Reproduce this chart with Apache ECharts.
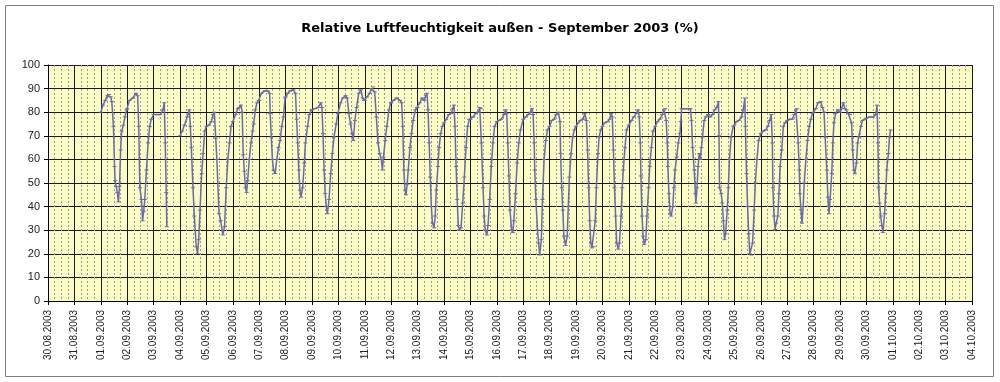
<!DOCTYPE html>
<html>
<head>
<meta charset="utf-8">
<script src="https://cdn.jsdelivr.net/npm/echarts@6/dist/echarts.min.js"></script>
<style>
html,body{margin:0;padding:0;background:#fff;}
#c{width:1000px;height:382px;}
</style>
</head>
<body>
<div id="c"></div>
<script>
// Tick labels of the x axis (one per day, 30.08.2003 .. 04.10.2003)
const dateLabels = ['30.08.2003','31.08.2003','01.09.2003','02.09.2003','03.09.2003','04.09.2003','05.09.2003','06.09.2003','07.09.2003','08.09.2003','09.09.2003','10.09.2003','11.09.2003','12.09.2003','13.09.2003','14.09.2003','15.09.2003','16.09.2003','17.09.2003','18.09.2003','19.09.2003','20.09.2003','21.09.2003','22.09.2003','23.09.2003','24.09.2003','25.09.2003','26.09.2003','27.09.2003','28.09.2003','29.09.2003','30.09.2003','01.10.2003','02.10.2003','03.10.2003','04.10.2003'];
const yTicks = [0,10,20,30,40,50,60,70,80,90,100];

// Readings per day: [hour of day, relative humidity %]
const sep01 = [[0,80],[2,83],[4,85],[6,87],[7.5,87.5],[9,86.5],[10,84.5],[11.5,74],[12.5,57],[13,51],[14,48.5],[15,46],[16,42],[17,48.5],[18,64],[19,72],[20.5,74.5],[22,78],[23.5,81]];
const sep02 = [[0,81.5],[2,85],[5,86],[8,88],[9.5,87],[10.5,74],[11.5,48],[13,43],[14,34],[15,38],[16,43],[17.5,55.5],[19,67],[20.5,74],[21.8,77]];
const sep03 = [[0,79],[3,79],[6,79],[8.5,81],[9.7,84],[10.6,67],[11.5,46],[12,31.5]];
const sep04 = [[0,70],[2,72],[4,74.5],[6.5,78],[8.5,81],[9.4,74],[10.3,65],[11.8,48],[13,36],[14.8,23],[16,20],[17,26],[18.2,38.5],[19.7,54],[21,62.5],[22.5,72]];
const sep05 = [[0,74],[2.4,74.5],[4.5,76],[6,79],[7.2,80],[8.5,69],[9.5,60],[11.5,37],[13,34],[15,28],[16.5,31.5],[18,48],[19.5,60],[21,67],[22.4,74]];
const sep06 = [[0,76],[2.5,79],[4.5,81.5],[6,82],[7.5,83],[8.5,80],[9.5,62],[10.5,55],[11.5,48],[12.5,46],[13.5,51],[15,60],[16.5,67],[18,72],[19,75],[20.5,81],[22,84],[23.5,85]];
const sep07 = [[0,85],[2,88],[5,89],[8,89],[9.5,88],[10,79.5],[11,69.5],[12,60],[13,55.5],[14.5,54],[16,60],[17.5,65],[19,68],[20.5,74],[22,78],[23.5,86]];
const sep08 = [[0,86.5],[2,88],[4,89],[7,89.5],[9,88],[10,77],[11,67],[12,55.5],[13,47],[14,44],[15.5,48],[17,58.5],[18,67],[20,74],[21.5,79],[23.5,81]];
const sep09 = [[0,81],[2.5,81.5],[5.5,82],[8,84],[9,82],[10,71],[11,55.5],[12,45.5],[13,40],[14,37],[15.5,43],[17,54],[18.5,62.5],[20,69.5],[22,75],[23.5,79.5]];
const sep10 = [[0,79.5],[2,84],[4,86],[6.5,87],[8,86],[9.5,79.5],[11,75],[12.5,71],[13.5,68],[15,76.5],[16.5,82],[18.5,88],[20.5,89.5],[22,86],[23.5,85]];
const sep11 = [[0,85],[2,86.5],[4.5,88],[6,90],[7.5,90.7],[9,88.6],[10.5,78],[12,67],[13.5,62.5],[15,60],[16,55.5],[17,61],[18.5,68],[20,74],[22,81],[23.5,84]];
const sep12 = [[0,84],[2,85],[5,86],[8,85],[9.5,84],[10.5,74],[11.5,55.5],[12.5,47],[13.5,45],[14.5,49.5],[15.5,55.5],[17,65],[18.5,71],[20,76.5],[22,81],[23.5,82]];
const sep13 = [[0,82],[2,84],[4,86],[6,85],[7.5,87],[8.5,88],[9.5,81],[10.5,67],[11.5,52.5],[12.5,40],[13.5,33],[15,31],[16,36],[17,47],[18.5,57],[19.5,65],[21,71],[22.5,74]];
const sep14 = [[0,75.5],[2,77],[4.5,79],[6.5,79.5],[8,81.5],[9,83],[10,74],[11,57],[12,43],[13,32],[14,30],[15.5,31],[17,41.5],[18.5,52.5],[20,65],[21.5,74],[23,77]];
const sep15 = [[0,77],[2.5,78],[5,79.5],[7,80],[8.5,82],[9.5,81.5],[10,67],[11.5,48],[12.5,36],[13.5,30],[15,28],[16,32],[17.5,43],[19,57],[20.5,67],[22,74]];
const sep16 = [[0,76],[2,76.5],[4,77],[6.5,79],[8,81],[9,79.5],[10,67],[11,53],[12,38.5],[13.5,30],[14.5,29],[15.5,34],[17,45.5],[18.5,58.5],[20,67],[21.5,72.5]];
const sep17 = [[0,77],[2.5,78],[4.5,79],[6.5,80],[8,81.5],[9,79],[10,67],[10.5,55.5],[11.5,43],[13,30],[14,24.5],[15,19.5],[16.5,26],[17.5,43],[19,60],[20.5,68],[22,72.5]];
const sep18 = [[0,74],[2,76.5],[4,77],[6,79],[8,80],[9.5,76],[10,62.5],[11,48],[12,38.5],[13,27.5],[14.5,23.5],[16,27.5],[17,40],[18,52.5],[19.5,62.5],[21,69.5],[22.5,72.5]];
const sep19 = [[0,74],[2,75.5],[4,76.5],[6.5,77],[8,79.5],[9.5,76.5],[10.5,64],[11.5,48],[12.5,34],[13.5,24.5],[14.5,22.5],[16,23],[17.5,34],[18.5,48],[20,62.5],[21,69.5],[22.5,72.5]];
const sep20 = [[0,74],[2,75.5],[4.5,76],[6.5,77],[8,79.5],[9,78],[10,64],[11,48],[12,36],[13,24.5],[14.5,22],[15.5,24.5],[17,36],[18,48],[19,55.5],[20.5,65],[22,72.5]];
const sep21 = [[0,74.5],[2.5,76.5],[4.5,78],[7,79.5],[8.5,81],[9.5,78],[10.5,67],[11,53],[12,36],[13,27.5],[14,24],[15.5,26],[16.5,36],[18,48],[19,57],[20.5,65],[22,72]];
const sep22 = [[0,74],[2,76],[4,77],[6.5,79],[8,81],[9,81.5],[10,76.5],[11,67],[11.5,57],[12.5,45.5],[13.5,37],[14.5,36],[16,40],[17,48],[18,55.5],[19.5,61],[21,67],[22.5,71],[23.3,76]];
const sep23 = [[0,81.5],[3,81.5],[6,81.5],[8,81.5],[9,76.5],[10,65],[11.5,55.5],[12.5,45.5],[13,41.5],[14,48],[15,57],[16,62.5],[17,60],[18,65],[19,69.5],[20.5,76.5],[22,78]];
const sep24 = [[0,79],[2,78],[4,79],[6,81],[8,82],[9.5,84.5],[10,70],[10.5,48],[12,45.5],[13,41.5],[14,34],[15,26],[16,28.5],[17.5,38.5],[18.5,48],[19.5,60],[21,69.5],[23,74]];
const sep25 = [[0,74.5],[2,76],[4,76.5],[6.5,78],[8,81],[9.5,86],[10,74],[11,54],[12,40],[13,28.5],[14,20],[15.5,19.5],[16.5,24.5],[18,38.5],[19,50],[20.5,60],[22,68]];
const sep26 = [[0,71],[2,72],[4.5,72.5],[6.5,74],[8,76.5],[9.5,79],[10.5,67],[11,48],[12,36],[13,30.3],[14,33],[15.5,36],[16.5,45.5],[17.5,57],[19,64],[20.5,74],[22,75.5]];
const sep27 = [[0,76.5],[2.5,77],[4.5,77],[6.5,79],[8,81],[9,81.5],[10,67],[11,55.5],[11.5,45.5],[12.5,38.7],[13.5,33],[14.5,40],[15.5,50],[17,60],[18.5,68],[20,74],[21.5,77],[23,79.5]];
const sep28 = [[0,80],[2,81.5],[4,84],[6.5,84.5],[8,82],[9.5,80],[10.5,69.5],[12,55.5],[13,44],[14,37],[15,43],[16.5,54],[17.5,67],[18.5,75.5],[20,79.5],[22,81]];
const sep29 = [[0,80],[1.5,81.5],[3,84],[4.5,81.5],[6,81],[7.5,79.5],[9,79],[10.5,75.5],[11.5,64],[12.5,55.5],[13.5,54],[15,58.5],[16,67],[17,69.5],[19,74],[20.5,76.5],[22.5,77]];
const sep30 = [[0,77.5],[3,78],[6,78],[8.5,79],[9.7,83],[10.5,67],[11,48],[12,41.5],[13,36],[14,32],[15,29],[16.5,37],[17.5,45.5],[18.5,55.5],[20,62.5],[21,69.5],[22,72.5]];

const septemberDays = [sep01,sep02,sep03,sep04,sep05,sep06,sep07,sep08,sep09,sep10,sep11,sep12,sep13,sep14,sep15,sep16,sep17,sep18,sep19,sep20,sep21,sep22,sep23,sep24,sep25,sep26,sep27,sep28,sep29,sep30];
const missingAfterDay = 3; // no readings from 03.09 afternoon to 04.09 00:00

// x value: days since 30.08.2003 00:00
const firstDayOffset = dateLabels.indexOf('01.09.2003');
const seriesData = [];
septemberDays.forEach((day, i) => {
  day.forEach(p => seriesData.push([firstDayOffset + i + p[0] / 24, p[1]]));
  if (i + 1 === missingAfterDay) seriesData.push([firstDayOffset + i + 0.75, null]);
});

const chart = echarts.init(document.getElementById('c'), null, {renderer: 'canvas'});
const lineColor = '#6a6aab';
chart.setOption({
  animation: false,
  backgroundColor: '#ffffff',
  title: {
    text: 'Relative Luftfeuchtigkeit außen - September 2003 (%)',
    left: 'center',
    top: 17,
    textStyle: {fontFamily: 'DejaVu Sans, sans-serif', fontSize: 13, fontWeight: 'bold', color: '#000'}
  },
  graphic: [{
    type: 'rect', silent: true, z: -1,
    shape: {x: 5.5, y: 5.5, width: 988, height: 371},
    style: {fill: 'none', stroke: '#7f7f7f', lineWidth: 1}
  }],
  grid: {left: 48, right: 28, top: 65, bottom: 81, show: true, backgroundColor: '#fbfbc4', borderWidth: 0},
  xAxis: {
    type: 'value',
    min: 0, max: dateLabels.length - 1, interval: 1,
    axisLine: {show: true, onZero: false, lineStyle: {color: '#000', width: 1}},
    axisTick: {show: true, length: 4, lineStyle: {color: '#000'}},
    axisLabel: {
      rotate: 90, margin: 9, fontSize: 10, color: '#222',
      fontFamily: 'Liberation Sans, Arial, sans-serif',
      formatter: v => dateLabels[Math.round(v)] || ''
    },
    splitLine: {show: true, lineStyle: {color: '#1a1a1a', width: 1}},
    minorTick: {show: false, splitNumber: 4},
    minorSplitLine: {show: true, lineStyle: {color: '#9a9a9a', width: 1, type: [2, 2]}}
  },
  yAxis: {
    type: 'value',
    min: yTicks[0], max: yTicks[yTicks.length - 1], interval: 10,
    axisLine: {show: true, lineStyle: {color: '#000', width: 1}},
    axisTick: {show: true, length: 4, lineStyle: {color: '#000'}},
    axisLabel: {fontSize: 11, color: '#222', margin: 8, fontFamily: 'Liberation Sans, Arial, sans-serif'},
    splitLine: {show: true, lineStyle: {color: '#1a1a1a', width: 1}}
  },
  series: [{
    type: 'line',
    data: seriesData,
    connectNulls: false,
    showSymbol: true,
    symbol: 'rect',
    symbolSize: [4, 1],
    itemStyle: {color: lineColor},
    lineStyle: {color: lineColor, width: 1.5},
    z: 5
  }]
});
</script>
</body>
</html>
